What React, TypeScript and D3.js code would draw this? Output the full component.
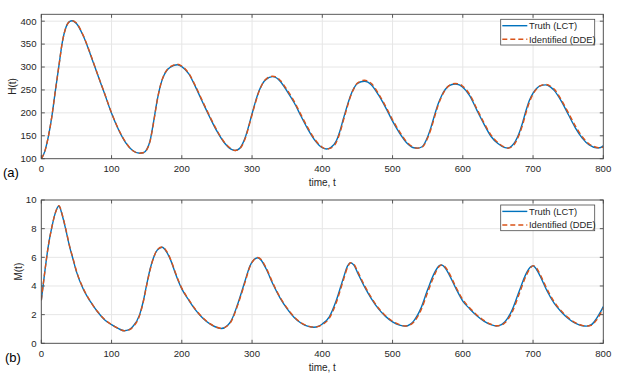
import React from "react";
import * as d3 from "d3";

// ---------- DATA ----------
const xTicks = [0, 100, 200, 300, 400, 500, 600, 700, 800];
const hTicks = [100, 150, 200, 250, 300, 350, 400];
const mTicks = [0, 2, 4, 6, 8, 10];

const hTime = [0, 5, 10, 15, 20, 25, 30, 35, 40, 44, 50, 60, 70, 80, 90, 100, 110, 120, 130, 140, 145, 150, 155, 160, 165, 170, 175, 180, 188, 194, 200, 210, 220, 230, 240, 250, 260, 270, 276, 282, 290, 295, 300, 305, 310, 315, 320, 329, 335, 340, 350, 360, 370, 380, 390, 400, 406, 412, 420, 425, 430, 435, 440, 445, 450, 460, 470, 480, 490, 500, 510, 520, 530, 536, 542, 550, 555, 560, 565, 570, 575, 580, 589, 595, 600, 610, 620, 630, 640, 650, 660, 664, 670, 680, 685, 690, 695, 700, 705, 710, 718, 725, 730, 740, 750, 760, 770, 780, 790, 795, 800];
const hTruth = [100, 116, 148, 192, 248, 302, 355, 386, 399, 401, 395, 367, 327, 284, 242, 199, 163, 135, 118, 112, 113, 120, 140, 182, 228, 262, 283, 295, 303, 305, 301, 285, 255, 222, 190, 160, 136, 121, 118, 122, 145, 170, 198, 225, 248, 264, 273, 279, 276, 269, 247, 222, 192, 163, 139, 124, 121, 124, 139, 160, 187, 213, 237, 254, 264, 269, 261, 239, 212, 182, 156, 135, 124, 123, 126, 148, 170, 196, 220, 238, 251, 259, 263, 261, 256, 237, 206, 176, 149, 133, 124, 123, 128, 155, 178, 205, 228, 243, 253, 259, 261, 256, 249, 226, 197, 168, 145, 130, 124, 124, 128];
const hIdent = [100, 116, 148, 192, 248, 302, 355, 386, 399, 401, 396, 368, 328, 285, 243, 200, 164, 136, 118, 112, 113, 119, 139, 180, 227, 262, 284, 296, 304, 306, 302, 286, 257, 224, 192, 162, 137, 122, 118, 121, 143, 168, 196, 223, 247, 264, 274, 280, 278, 271, 250, 225, 195, 166, 141, 125, 121, 123, 136, 156, 183, 210, 235, 253, 265, 271, 264, 242, 215, 185, 159, 137, 125, 123, 125, 145, 166, 192, 217, 236, 250, 259, 264, 263, 258, 240, 209, 179, 152, 135, 125, 123, 126, 151, 173, 200, 224, 241, 252, 259, 262, 258, 252, 229, 201, 172, 148, 132, 125, 123, 126];

const mTime = [0, 5, 10, 15, 20, 25, 30, 35, 40, 45, 50, 60, 70, 80, 90, 100, 110, 118, 125, 130, 140, 145, 150, 155, 160, 165, 172, 178, 185, 190, 200, 210, 220, 230, 240, 250, 256, 265, 270, 280, 290, 297, 303, 308, 313, 320, 330, 340, 350, 360, 370, 380, 388, 395, 400, 410, 420, 430, 436, 440, 445, 450, 460, 470, 480, 490, 500, 510, 518, 525, 530, 540, 550, 560, 567, 570, 575, 580, 590, 600, 610, 620, 630, 640, 648, 655, 660, 670, 680, 690, 697, 700, 705, 710, 720, 730, 740, 750, 760, 770, 776, 783, 790, 795, 800];
const mTruth = [3.0, 5.0, 6.8, 8.1, 9.1, 9.58, 8.9, 7.9, 6.8, 5.9, 5.0, 3.75, 2.9, 2.2, 1.65, 1.3, 1.02, 0.88, 0.95, 1.15, 2.0, 2.9, 4.1, 5.2, 6.0, 6.5, 6.7, 6.4, 5.7, 5.0, 3.8, 3.0, 2.3, 1.75, 1.35, 1.1, 1.03, 1.25, 1.55, 2.8, 4.35, 5.4, 5.85, 5.97, 5.8, 5.2, 4.1, 3.15, 2.4, 1.8, 1.4, 1.18, 1.12, 1.2, 1.35, 1.85, 3.0, 4.55, 5.4, 5.62, 5.45, 4.95, 3.95, 3.1, 2.4, 1.88, 1.5, 1.27, 1.2, 1.32, 1.55, 2.4, 3.75, 4.95, 5.43, 5.46, 5.25, 4.85, 3.85, 2.95, 2.4, 1.92, 1.55, 1.3, 1.21, 1.3, 1.5, 2.3, 3.6, 4.85, 5.35, 5.4, 5.15, 4.7, 3.65, 2.8, 2.2, 1.73, 1.4, 1.22, 1.2, 1.3, 1.7, 2.1, 2.56];
const mIdent = [3.0, 5.0, 6.8, 8.1, 9.1, 9.6, 8.95, 7.95, 6.85, 5.95, 5.05, 3.8, 2.92, 2.22, 1.67, 1.31, 1.03, 0.88, 0.94, 1.12, 1.95, 2.85, 4.05, 5.15, 6.0, 6.52, 6.72, 6.45, 5.75, 5.05, 3.85, 3.04, 2.33, 1.78, 1.37, 1.12, 1.04, 1.22, 1.5, 2.72, 4.25, 5.35, 5.85, 5.99, 5.85, 5.27, 4.17, 3.2, 2.45, 1.84, 1.43, 1.2, 1.13, 1.18, 1.3, 1.75, 2.85, 4.4, 5.3, 5.62, 5.52, 5.05, 4.05, 3.18, 2.46, 1.93, 1.54, 1.3, 1.21, 1.28, 1.47, 2.25, 3.55, 4.8, 5.4, 5.47, 5.33, 4.95, 3.95, 3.05, 2.47, 1.98, 1.6, 1.33, 1.22, 1.27, 1.43, 2.15, 3.4, 4.7, 5.3, 5.42, 5.25, 4.82, 3.78, 2.9, 2.28, 1.8, 1.45, 1.25, 1.2, 1.26, 1.6, 1.98, 2.45];

const legendLabels = ["Truth (LCT)", "Identified (DDE)"];

// ---------- STYLE ----------
const BLUE = "#0072BD";
const ORANGE = "#D95319";
const AXIS = "#4a4a4a";
const GRID = "#e6e6e6";
const TEXT = "#262626";
const FONT = "'Liberation Sans', Arial, Helvetica, sans-serif";

const X0 = 41.3;
const X1 = 603.3;

type PanelProps = {
  top: number;
  bottom: number;
  yDomain: [number, number];
  yTicks: number[];
  time: number[];
  truth: number[];
  ident: number[];
  yLabel: string;
  yLabelX: number;
  tag: string;
  tagX: number;
  id: string;
};

function Panel(p: PanelProps) {
  const x = d3.scaleLinear().domain([0, 800]).range([X0, X1]);
  const y = d3.scaleLinear().domain(p.yDomain).range([p.bottom, p.top]);
  const line = d3
    .line<number>()
    .x((_, i) => x(p.time[i]))
    .y((v) => y(v))
    .curve(d3.curveMonotoneX);
  const tl = 3.5;
  const legX = 500.7;
  const legY = p.top + 5;
  return (
    <g fontFamily={FONT}>
      <defs>
        <clipPath id={`clip-${p.id}`}>
          <rect x={X0} y={p.top} width={X1 - X0} height={p.bottom - p.top} />
        </clipPath>
      </defs>
      <rect x={X0} y={p.top} width={X1 - X0} height={p.bottom - p.top} fill="#fff" />
      {xTicks.map((t) => (
        <line key={`gx${t}`} x1={x(t)} x2={x(t)} y1={p.top} y2={p.bottom} stroke={GRID} strokeWidth={1} />
      ))}
      {p.yTicks.map((t) => (
        <line key={`gy${t}`} x1={X0} x2={X1} y1={y(t)} y2={y(t)} stroke={GRID} strokeWidth={1} />
      ))}
      <g clipPath={`url(#clip-${p.id})`}>
        <path d={line(p.truth) || ""} fill="none" stroke={BLUE} strokeWidth={1.4} />
        <path d={line(p.ident) || ""} fill="none" stroke={ORANGE} strokeWidth={1.4} strokeDasharray="5 3" />
      </g>
      <rect x={X0} y={p.top} width={X1 - X0} height={p.bottom - p.top} fill="none" stroke={AXIS} strokeWidth={0.9} />
      {xTicks.map((t) => (
        <g key={`tx${t}`}>
          <line x1={x(t)} x2={x(t)} y1={p.bottom} y2={p.bottom - tl} stroke={AXIS} strokeWidth={0.9} />
          <line x1={x(t)} x2={x(t)} y1={p.top} y2={p.top + tl} stroke={AXIS} strokeWidth={0.9} />
          <text x={x(t)} y={p.bottom + 13.5} textAnchor="middle" fontSize={9.6} fill={TEXT}>
            {t}
          </text>
        </g>
      ))}
      {p.yTicks.map((t) => (
        <g key={`ty${t}`}>
          <line x1={X0} x2={X0 + tl} y1={y(t)} y2={y(t)} stroke={AXIS} strokeWidth={0.9} />
          <line x1={X1} x2={X1 - tl} y1={y(t)} y2={y(t)} stroke={AXIS} strokeWidth={0.9} />
          <text x={36.5} y={y(t)} dy="0.35em" textAnchor="end" fontSize={9.6} fill={TEXT}>
            {t}
          </text>
        </g>
      ))}
      <text x={(X0 + X1) / 2} y={p.bottom + 27.5} textAnchor="middle" fontSize={10} fill={TEXT}>
        time, t
      </text>
      <text
        transform={`translate(${p.yLabelX},${(p.top + p.bottom) / 2}) rotate(-90)`}
        textAnchor="middle"
        dy="0.35em"
        fontSize={10}
        fill={TEXT}
      >
        {p.yLabel}
      </text>
      <text x={p.tagX} y={p.bottom + 18.5} fontSize={13} fill="#000">
        {p.tag}
      </text>
      {/* legend */}
      <rect x={legX} y={legY} width={94} height={25.7} fill="#fff" stroke={AXIS} strokeWidth={0.8} />
      <line x1={legX + 1.6} x2={legX + 26.6} y1={legY + 6.4} y2={legY + 6.4} stroke={BLUE} strokeWidth={1.4} />
      <line x1={legX + 1.6} x2={legX + 26.6} y1={legY + 20} y2={legY + 20} stroke={ORANGE} strokeWidth={1.4} strokeDasharray="5 3" />
      <text x={legX + 28.3} y={legY + 6.4} dy="0.35em" fontSize={9.4} fill={TEXT}>
        {legendLabels[0]}
      </text>
      <text x={legX + 28.3} y={legY + 20} dy="0.35em" fontSize={9.4} fill={TEXT}>
        {legendLabels[1]}
      </text>
    </g>
  );
}

export default function App() {
  return (
    <svg
      width={634}
      height={378}
      style={{ position: "absolute", left: 0, top: 0, background: "#fff" }}
    >
      <rect width={634} height={378} fill="#fff" />
      <Panel
        id="a"
        top={14.3}
        bottom={158.7}
        yDomain={[100, 415]}
        yTicks={hTicks}
        time={hTime}
        truth={hTruth}
        ident={hIdent}
        yLabel="H(t)"
        yLabelX={12}
        tag="(a)"
        tagX={3}
      />
      <Panel
        id="b"
        top={200}
        bottom={343.3}
        yDomain={[0, 10]}
        yTicks={mTicks}
        time={mTime}
        truth={mTruth}
        ident={mIdent}
        yLabel="M(t)"
        yLabelX={18}
        tag="(b)"
        tagX={5}
      />
    </svg>
  );
}
